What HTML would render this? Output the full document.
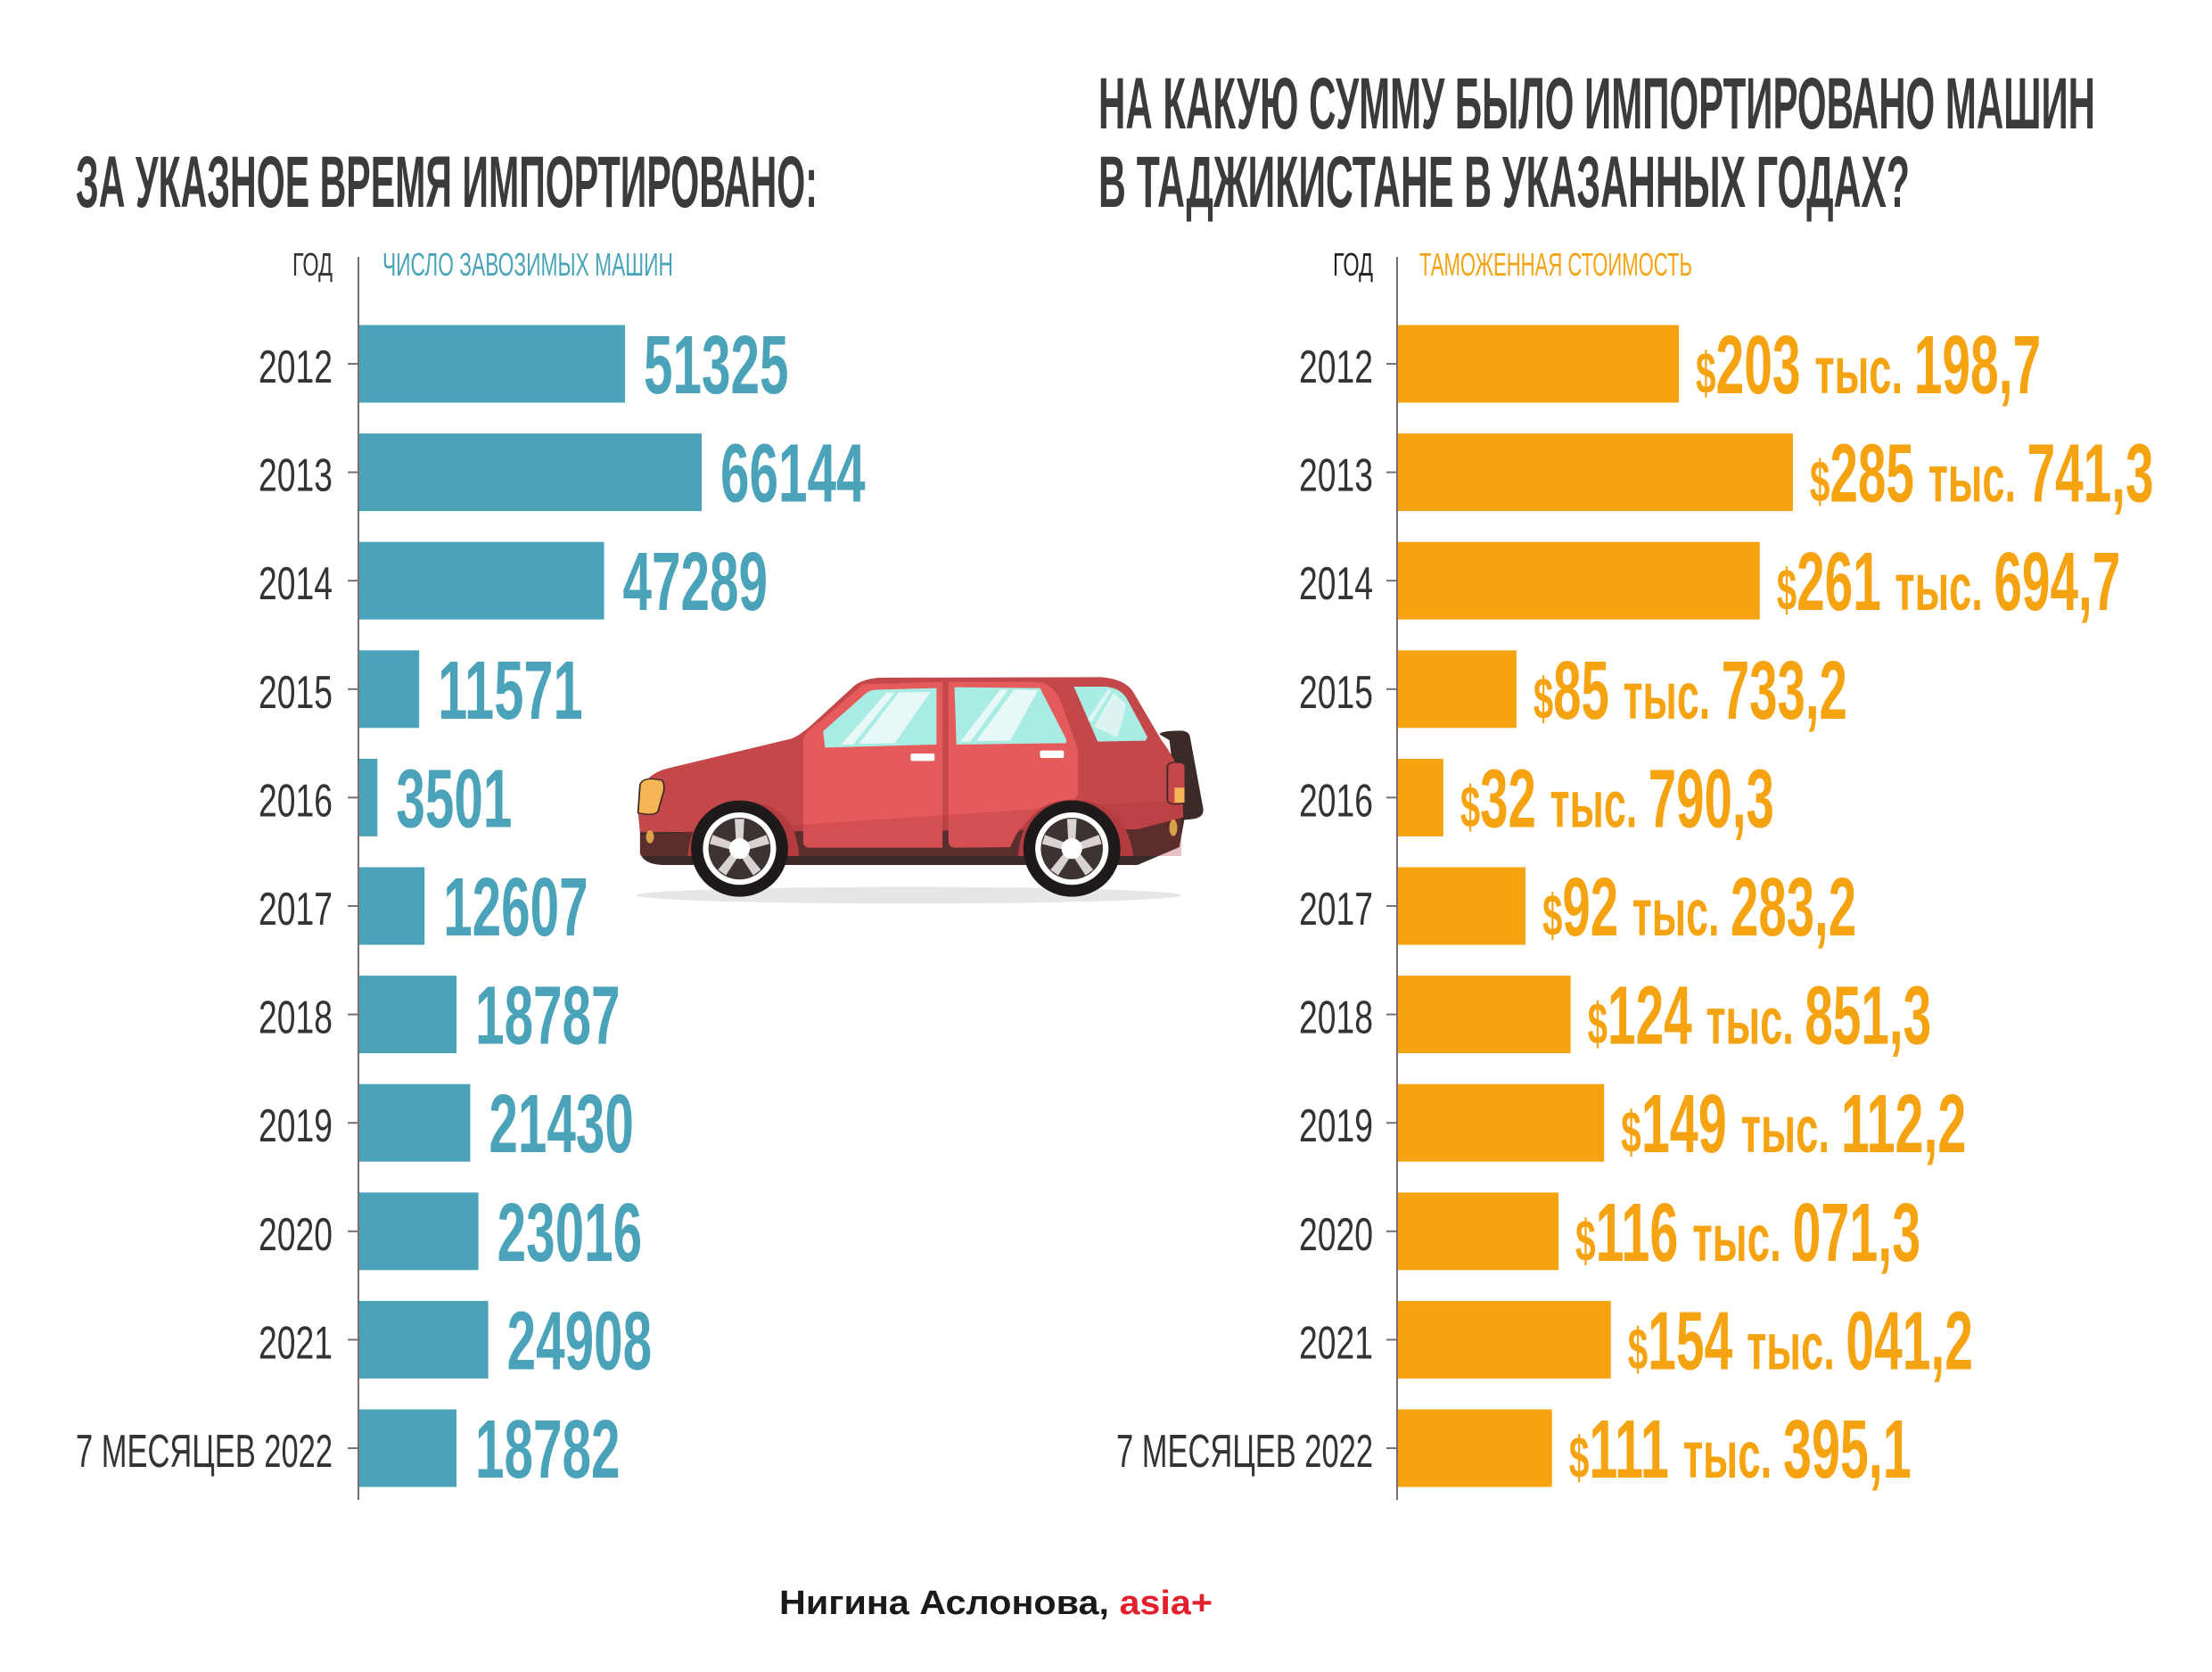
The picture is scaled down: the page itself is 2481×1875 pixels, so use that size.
<!DOCTYPE html>
<html><head><meta charset="utf-8"><style>
html,body{margin:0;padding:0;background:#fff;}
svg{display:block;}
.t{font-family:"Liberation Sans","DejaVu Sans",sans-serif;font-weight:bold;fill:#3b3b3b;}
.y{font-family:"Liberation Sans","DejaVu Sans",sans-serif;fill:#333;font-size:52px;}
.v{font-family:"Liberation Sans","DejaVu Sans",sans-serif;font-weight:bold;font-size:93px;}
.h{font-family:"Liberation Sans","DejaVu Sans",sans-serif;font-size:36px;}
</style></head><body>
<svg width="2481" height="1875" viewBox="0 0 2481 1875" xmlns="http://www.w3.org/2000/svg">
<rect width="2481" height="1875" fill="#fff"/>
<text class="t" x="85" y="232" font-size="82" textLength="832" lengthAdjust="spacingAndGlyphs">ЗА УКАЗНОЕ ВРЕМЯ ИМПОРТИРОВАНО:</text>
<text class="t" x="1232" y="144" font-size="82" textLength="1118" lengthAdjust="spacingAndGlyphs">НА КАКУЮ СУММУ БЫЛО ИМПОРТИРОВАНО МАШИН</text>
<text class="t" x="1232" y="232" font-size="82" textLength="910" lengthAdjust="spacingAndGlyphs">В ТАДЖИКИСТАНЕ В УКАЗАННЫХ ГОДАХ?</text>
<text class="h" x="328" y="309" fill="#333" textLength="45" lengthAdjust="spacingAndGlyphs">ГОД</text>
<text class="h" x="429" y="309" fill="#4aa3b8" textLength="326" lengthAdjust="spacingAndGlyphs">ЧИСЛО ЗАВОЗИМЫХ МАШИН</text>
<text class="h" x="1495" y="309" fill="#222" textLength="45" lengthAdjust="spacingAndGlyphs">ГОД</text>
<text class="h" x="1592" y="309" fill="#f5a311" textLength="306" lengthAdjust="spacingAndGlyphs">ТАМОЖЕННАЯ СТОИМОСТЬ</text>
<line x1="402" y1="288" x2="402" y2="1682" stroke="#7a6e6e" stroke-width="2"/>
<line x1="1567" y1="288" x2="1567" y2="1682" stroke="#7a6e6e" stroke-width="2"/>
<g id="bars"></g>
<g transform="translate(700,730) scale(0.4464,0.3333)">
<ellipse cx="715" cy="822" rx="685" ry="28" fill="#e6e6e6"/>
<path d="M40,560 L40,680 Q50,720 100,720 L1290,720 L1395,660 L1410,550 L1300,550 Z" fill="#3a2a28"/>
<path d="M1345,280 Q1350,268 1400,268 Q1420,270 1422,290 L1455,530 Q1458,560 1430,565 L1395,570 L1370,300 Z" fill="#3a2a28"/>
<path d="M35,545 L40,470 Q60,410 110,395 L420,295 Q440,285 470,250 L580,115 Q600,95 640,90 L1200,88 Q1260,95 1280,140 L1350,300 Q1385,360 1400,430 L1405,560 L1290,600 L40,610 Z" fill="#c4474a"/>
<path d="M450,300 Q455,270 490,240 L600,112 L800,104 L800,662 L465,662 Q450,660 450,640 Z" fill="#e55b5b"/>
<path d="M815,104 L1040,104 Q1080,110 1100,180 L1140,330 L1140,480 Q1140,500 1100,520 L1060,540 Q1000,560 970,660 L830,662 Q815,660 815,640 Z" fill="#e55b5b"/>
<path d="M40,620 L1400,500 L1400,690 L40,690 Z" fill="#a8353a" opacity="0.3"/>
<path d="M500,270 L610,140 Q620,130 640,130 L785,125 L785,315 L505,325 Z" fill="#a8ece3"/>
<path d="M545,315 L660,140 L680,140 L575,315 Z M590,312 L690,140 L770,138 L680,310 Z" fill="#e8f8f6"/>
<path d="M830,122 L1045,125 L1112,300 L1110,310 L835,315 Z" fill="#a8ece3"/>
<path d="M845,305 L945,130 L965,130 L870,305 Z M885,303 L980,130 L1040,132 L970,302 Z" fill="#e8f8f6"/>
<path d="M1130,120 L1210,120 Q1250,125 1265,165 L1315,290 L1310,302 L1190,305 Z" fill="#a8ece3"/>
<path d="M1165,230 L1215,130 L1225,132 L1175,240 Z M1180,255 L1230,140 L1262,180 L1240,290 Z" fill="#e8f8f6" opacity="0.8"/>
<rect x="720" y="345" width="60" height="25" rx="5" fill="#fff"/>
<rect x="1045" y="335" width="60" height="25" rx="5" fill="#fff"/>
<path d="M40,450 Q45,430 70,430 L95,435 Q102,445 100,470 L85,540 Q80,550 60,550 L35,545 Z" fill="#f6b656" stroke="#3a2a28" stroke-width="4"/>
<rect x="1365" y="375" width="45" height="140" rx="15" fill="#c4474a" stroke="#3a2a28" stroke-width="4"/>
<rect x="1383" y="460" width="25" height="50" fill="#f6b656"/>
<ellipse cx="65" cy="625" rx="10" ry="22" fill="#d9a04a"/>
<ellipse cx="1380" cy="595" rx="10" ry="28" fill="#d9a04a"/>
<path d="M160,690 Q170,510 300,505 Q430,510 440,690 Z" fill="#b33c40"/>
<path d="M990,690 Q1000,505 1125,500 Q1260,505 1280,690 Z" fill="#b33c40"/>
<g id="w1" transform="translate(290,665)">
<ellipse rx="122" ry="162" fill="#1e1a1a"/>
<ellipse rx="92" ry="122" fill="#fff"/>
<ellipse rx="78" ry="104" fill="#3d3331"/>
<g fill="#d8d2d2">
<polygon points="-8,0 8,0 12,-100 -12,-100"/>
<polygon points="-8,0 8,0 12,-100 -12,-100" transform="scale(1,1.33) rotate(72) scale(1,0.75)"/>
<polygon points="-8,0 8,0 12,-100 -12,-100" transform="scale(1,1.33) rotate(144) scale(1,0.75)"/>
<polygon points="-8,0 8,0 12,-100 -12,-100" transform="scale(1,1.33) rotate(216) scale(1,0.75)"/>
<polygon points="-8,0 8,0 12,-100 -12,-100" transform="scale(1,1.33) rotate(288) scale(1,0.75)"/>
</g>
<ellipse rx="26" ry="35" fill="#fff"/>
</g>
<use href="#w1" transform="translate(835,0)"/>
</g>
<text x="874" y="1810" font-family="'Liberation Sans',sans-serif" font-weight="bold" font-size="38" fill="#1a1a1a" textLength="486" lengthAdjust="spacingAndGlyphs">Нигина Аслонова, <tspan fill="#e3202a">asia+</tspan></text>
</svg>
<script>
(function(){
var NS="http://www.w3.org/2000/svg";
var g=document.getElementById("bars");
var years=["2012","2013","2014","2015","2016","2017","2018","2019","2020","2021","7 МЕСЯЦЕВ 2022"];
var cnt=[51325,66144,47289,11571,3501,12607,18787,21430,23016,24908,18782];
var money=[["203","198,7",203.2],["285","741,3",285.7],["261","694,7",261.7],["85","733,2",85.7],["32","790,3",32.8],["92","283,2",92.3],["124","851,3",124.9],["149","112,2",149.1],["116","071,3",116.1],["154","041,2",154.0],["111","395,1",111.4]];
var rw=[242,241,241,220,220,220,241,242,242,242,240];
function el(n,a,t){var e=document.createElementNS(NS,n);for(var k in a)e.setAttribute(k,a[k]);if(t!=null)e.textContent=t;g.appendChild(e);return e;}
for(var i=0;i<11;i++){
 var c=408+i*121.6;
 var yl=years[i].length>4?288:83;
 el("line",{x1:390,x2:402,y1:c,y2:c,stroke:"#7a6e6e","stroke-width":2});
 el("text",{"class":"y",x:373-yl,y:c+21,textLength:yl,lengthAdjust:"spacingAndGlyphs"},years[i]);
 var w=cnt[i]*384/66144;
 el("rect",{x:403,y:c-43.5,width:w,height:87,fill:"#4aa3b8"});
 var s=String(cnt[i]);
 el("text",{"class":"v",x:403+w+21,y:c+33,fill:"#4aa3b8",textLength:s.length*32.5,lengthAdjust:"spacingAndGlyphs"},s);
 el("line",{x1:1555,x2:1567,y1:c,y2:c,stroke:"#7a6e6e","stroke-width":2});
 el("text",{"class":"y",x:1540-yl,y:c+21,textLength:yl,lengthAdjust:"spacingAndGlyphs"},years[i]);
 var w2=money[i][2]*443/285.74;
 el("rect",{x:1568,y:c-43.5,width:w2,height:87,fill:"#f5a311"});
 var t=el("text",{"class":"v",x:1568+w2+19,y:c+33,fill:"#f5a311",textLength:rw[i]*1.6,lengthAdjust:"spacingAndGlyphs"});
 var a=document.createElementNS(NS,"tspan");a.setAttribute("font-size","66");a.textContent="$";t.appendChild(a);
 var b=document.createElementNS(NS,"tspan");b.textContent=money[i][0]+" ";t.appendChild(b);
 var d=document.createElementNS(NS,"tspan");d.setAttribute("font-size","74");d.textContent="тыс. ";t.appendChild(d);
 var f=document.createElementNS(NS,"tspan");f.textContent=money[i][1];t.appendChild(f);
}
})();
</script>
</body></html>
